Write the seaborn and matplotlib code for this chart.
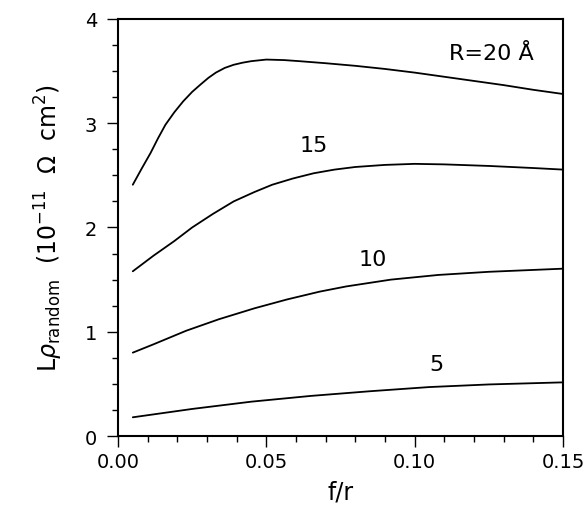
import pandas as pd
from matplotlib import pyplot as plt
from matplotlib.ticker import MultipleLocator
import seaborn as sns
import numpy as np

# Curves: L*rho_random vs f/r for several R

f_r20 = [0.005, 0.008, 0.011, 0.0135, 0.016, 0.019, 0.022, 0.025, 0.028, 0.0305,
         0.033, 0.036, 0.039, 0.042, 0.045, 0.050, 0.056, 0.061, 0.070, 0.080,
         0.090, 0.100, 0.110, 0.120, 0.130, 0.140, 0.150]
rho_r20 = [2.41, 2.565, 2.715, 2.855, 2.985, 3.105, 3.21, 3.30, 3.375, 3.435,
           3.485, 3.53, 3.56, 3.58, 3.595, 3.61, 3.605, 3.595, 3.575, 3.55,
           3.52, 3.485, 3.445, 3.405, 3.365, 3.32, 3.28]

f_r15 = [0.005, 0.012, 0.019, 0.025, 0.032, 0.039, 0.046, 0.052, 0.059, 0.066,
         0.073, 0.080, 0.090, 0.100, 0.110, 0.125, 0.140, 0.150]
rho_r15 = [1.58, 1.73, 1.87, 2.00, 2.13, 2.25, 2.34, 2.41, 2.47, 2.52,
           2.555, 2.58, 2.60, 2.61, 2.605, 2.59, 2.57, 2.555]

f_r10 = [0.005, 0.012, 0.023, 0.034, 0.046, 0.057, 0.068, 0.077, 0.092, 0.108,
         0.125, 0.150]
rho_r10 = [0.80, 0.88, 1.01, 1.12, 1.225, 1.31, 1.385, 1.435, 1.50, 1.545,
           1.575, 1.605]

f_r5 = [0.005, 0.025, 0.045, 0.065, 0.085, 0.105, 0.125, 0.150]
rho_r5 = [0.18, 0.26, 0.33, 0.385, 0.43, 0.47, 0.495, 0.515]

curve_labels = ["R=20 Å", "15", "10", "5"]
label_x = [0.126, 0.066, 0.086, 0.1075]
label_y = [3.67, 2.79, 1.70, 0.69]

# long-form table for seaborn
frames = []
for name, f, rho in [("20", f_r20, rho_r20), ("15", f_r15, rho_r15),
                     ("10", f_r10, rho_r10), ("5", f_r5, rho_r5)]:
    frames.append(pd.DataFrame({"f/r": f, "rho": rho, "R": name}))
df = pd.concat(frames, ignore_index=True)

sns.set_style("ticks")
plt.rcParams["font.family"] = ["DejaVu Sans"]
plt.rcParams["mathtext.fontset"] = "dejavusans"
for key in ["text.color", "axes.labelcolor", "xtick.color", "ytick.color",
            "axes.edgecolor"]:
    plt.rcParams[key] = "black"

fig = plt.figure(figsize=(5.84, 5.10), dpi=100)
ax = fig.add_axes([0.202, 0.143, 0.762, 0.818])

sns.lineplot(data=df, x="f/r", y="rho", hue="R", units="R", estimator=None,
             palette=["black"] * 4, linewidth=1.3, legend=False, ax=ax,
             sort=False)

for txt, x, y in zip(curve_labels, label_x, label_y):
    ax.text(x, y, txt, fontsize=16, ha="center", va="center")

ax.set_xlim(0, 0.15)
ax.set_ylim(0, 4)
ax.xaxis.set_minor_locator(MultipleLocator(0.01))
ax.yaxis.set_major_locator(MultipleLocator(1))
ax.yaxis.set_minor_locator(MultipleLocator(0.25))
ax.set_xticks([0, 0.05, 0.10, 0.15])
ax.set_xticklabels(["0.00", "0.05", "0.10", "0.15"])

ax.tick_params(which="major", direction="out", length=8, width=1, labelsize=14)
ax.tick_params(axis="y", which="major", pad=7)
ax.tick_params(which="minor", direction="out", length=4, width=1)
for s in ax.spines.values():
    s.set_linewidth(1.5)

ax.set_xlabel("f/r", fontsize=17, labelpad=6)
ax.set_ylabel(r"L$\rho_{\rm random}$  (10$^{-11}$  $\Omega$  cm$^2$)",
              fontsize=17, labelpad=14)

plt.savefig("out.png", dpi=100)
